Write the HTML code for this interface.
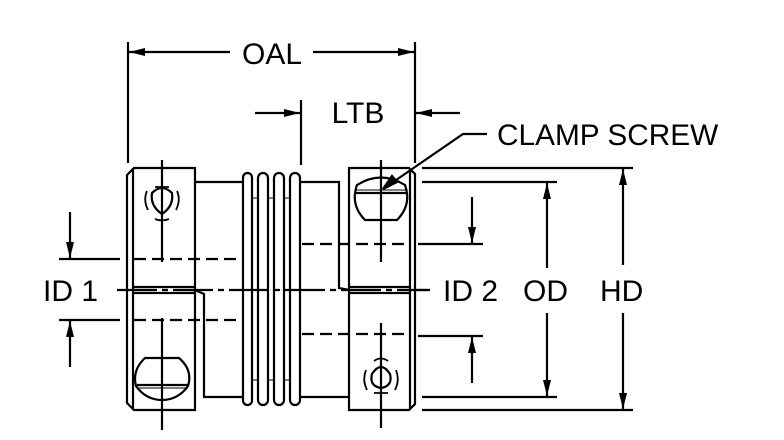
<!DOCTYPE html>
<html><head><style>
html,body{margin:0;padding:0;background:#fff;}
svg{display:block;}
text{font-family:"Liberation Sans",Arial,sans-serif;fill:#000;}
</style></head><body>
<svg width="784" height="440" viewBox="0 0 784 440" xmlns="http://www.w3.org/2000/svg">
<defs>
<marker id="a" viewBox="0 0 16 8" refX="16" refY="4" markerWidth="16" markerHeight="8" markerUnits="userSpaceOnUse" orient="auto"><path d="M0,0 L16,4 L0,8 Z" fill="#000"/></marker>
</defs>
<g stroke="#000" stroke-width="2.2" fill="none">
<line x1="128" y1="42" x2="128" y2="163"/>
<line x1="415" y1="42" x2="415" y2="163"/>
<line x1="230" y1="52" x2="129" y2="52" marker-end="url(#a)"/>
<line x1="313" y1="52" x2="414" y2="52" marker-end="url(#a)"/>
<line x1="301" y1="100" x2="301" y2="165"/>
<line x1="255" y1="113" x2="300" y2="113" marker-end="url(#a)"/>
<line x1="460" y1="113" x2="416" y2="113" marker-end="url(#a)"/>
<polyline points="487,134 463,134 383,189" />
<path d="M383,189 L392,176 L397,182 Z" fill="#000"/>
<path d="M127,175 L134,168 L195,168 L195,410 L134,410 L127,403 Z"/>
<line x1="133" y1="168" x2="133" y2="410"/>
<path d="M349,168 L409,168 L415,174 L415,404 L409,410 L349,410 Z"/>
<line x1="410" y1="169" x2="410" y2="409"/>
<polyline points="195,182 243,182"/>
<polyline points="301,182 339,182 339,288 349,290"/>
<polyline points="195,290 204,294 204,397 243,397"/>
<polyline points="301,397 349,397"/>
<rect x="243" y="173" width="9" height="232" rx="4.5"/>
<rect x="258" y="173" width="10" height="232" rx="5"/>
<rect x="274" y="173" width="10" height="232" rx="5"/>
<rect x="290" y="173" width="10" height="232" rx="5"/>
<g stroke-width="1">
<line x1="252" y1="198" x2="258" y2="198"/><line x1="268" y1="198" x2="274" y2="198"/><line x1="284" y1="198" x2="290" y2="198"/>
<line x1="252" y1="380" x2="258" y2="380"/><line x1="268" y1="380" x2="274" y2="380"/><line x1="284" y1="380" x2="290" y2="380"/>
</g>
<line x1="133" y1="287" x2="195" y2="287"/><line x1="133" y1="293" x2="195" y2="293"/>
<line x1="349" y1="287" x2="410" y2="287"/><line x1="349" y1="293" x2="410" y2="293"/>
<line x1="117" y1="290" x2="430" y2="290" stroke-dasharray="40,5,6,5"/>
<line x1="134" y1="259" x2="240" y2="259" stroke-dasharray="12,6"/>
<line x1="134" y1="320" x2="242" y2="320" stroke-dasharray="12,6"/>
<line x1="302" y1="244" x2="410" y2="244" stroke-dasharray="12,6"/>
<line x1="302" y1="334" x2="410" y2="334" stroke-dasharray="12,6"/>
<line x1="162" y1="160" x2="162" y2="262"/>
<line x1="162" y1="318" x2="162" y2="430"/>
<line x1="381" y1="160" x2="381" y2="262"/>
<line x1="381" y1="323" x2="381" y2="428"/>
<path d="M152,193 Q162,183 172,193 Q174,206 162,214 Q150,206 152,193 Z"/>
<path d="M147,191 Q143,200 148,210 M177,191 Q181,200 176,210 M155,187 L169,187 M155,219 Q162,222 169,219" stroke-width="1.8"/>
<path d="M372,374 Q381,360 390,374 Q393,386 381,388 Q369,386 372,374 Z"/>
<path d="M366,370 Q362,380 367,390 M396,370 Q400,380 395,390 M374,361 Q381,356 388,361 M374,393 L388,393" stroke-width="1.8"/>
<path d="M357,185 Q381,170 405,185 Q412,205 397,220 L365,220 Q350,205 357,185 Z"/>
<line x1="355" y1="193" x2="407" y2="193"/><line x1="355" y1="190" x2="407" y2="190" stroke-width="1"/>
<path d="M145,358 L179,358 Q193,370 188,386 Q178,400 162,400 Q146,400 136,386 Q132,370 145,358 Z"/>
<line x1="137" y1="385" x2="188" y2="385"/><line x1="137" y1="388" x2="188" y2="388" stroke-width="1"/>
<line x1="422" y1="168" x2="633" y2="168"/>
<line x1="422" y1="410" x2="633" y2="410"/>
<line x1="422" y1="182" x2="557" y2="182"/>
<line x1="422" y1="397" x2="557" y2="397"/>
<line x1="418" y1="244" x2="483" y2="244"/>
<line x1="418" y1="336" x2="483" y2="336"/>
<line x1="623" y1="265" x2="623" y2="169" marker-end="url(#a)"/>
<line x1="623" y1="313" x2="623" y2="409" marker-end="url(#a)"/>
<line x1="547" y1="268" x2="547" y2="183" marker-end="url(#a)"/>
<line x1="547" y1="313" x2="547" y2="396" marker-end="url(#a)"/>
<line x1="472" y1="197" x2="472" y2="243" marker-end="url(#a)"/>
<line x1="472" y1="383" x2="472" y2="337" marker-end="url(#a)"/>
<line x1="415" y1="290" x2="428" y2="290"/>
<line x1="59" y1="259" x2="120" y2="259"/>
<line x1="59" y1="320" x2="120" y2="320"/>
<line x1="70" y1="212" x2="70" y2="258" marker-end="url(#a)"/>
<line x1="70" y1="367" x2="70" y2="321" marker-end="url(#a)"/>
</g>
<g font-size="30">
<text x="272" y="64" text-anchor="middle">OAL</text>
<text x="358" y="123" text-anchor="middle">LTB</text>
<text x="497" y="145" font-size="29.8">CLAMP SCREW</text>
<text x="43" y="301">ID 1</text>
<text x="443" y="301">ID 2</text>
<text x="523" y="301">OD</text>
<text x="600" y="301">HD</text>
</g>
</svg>
</body></html>
